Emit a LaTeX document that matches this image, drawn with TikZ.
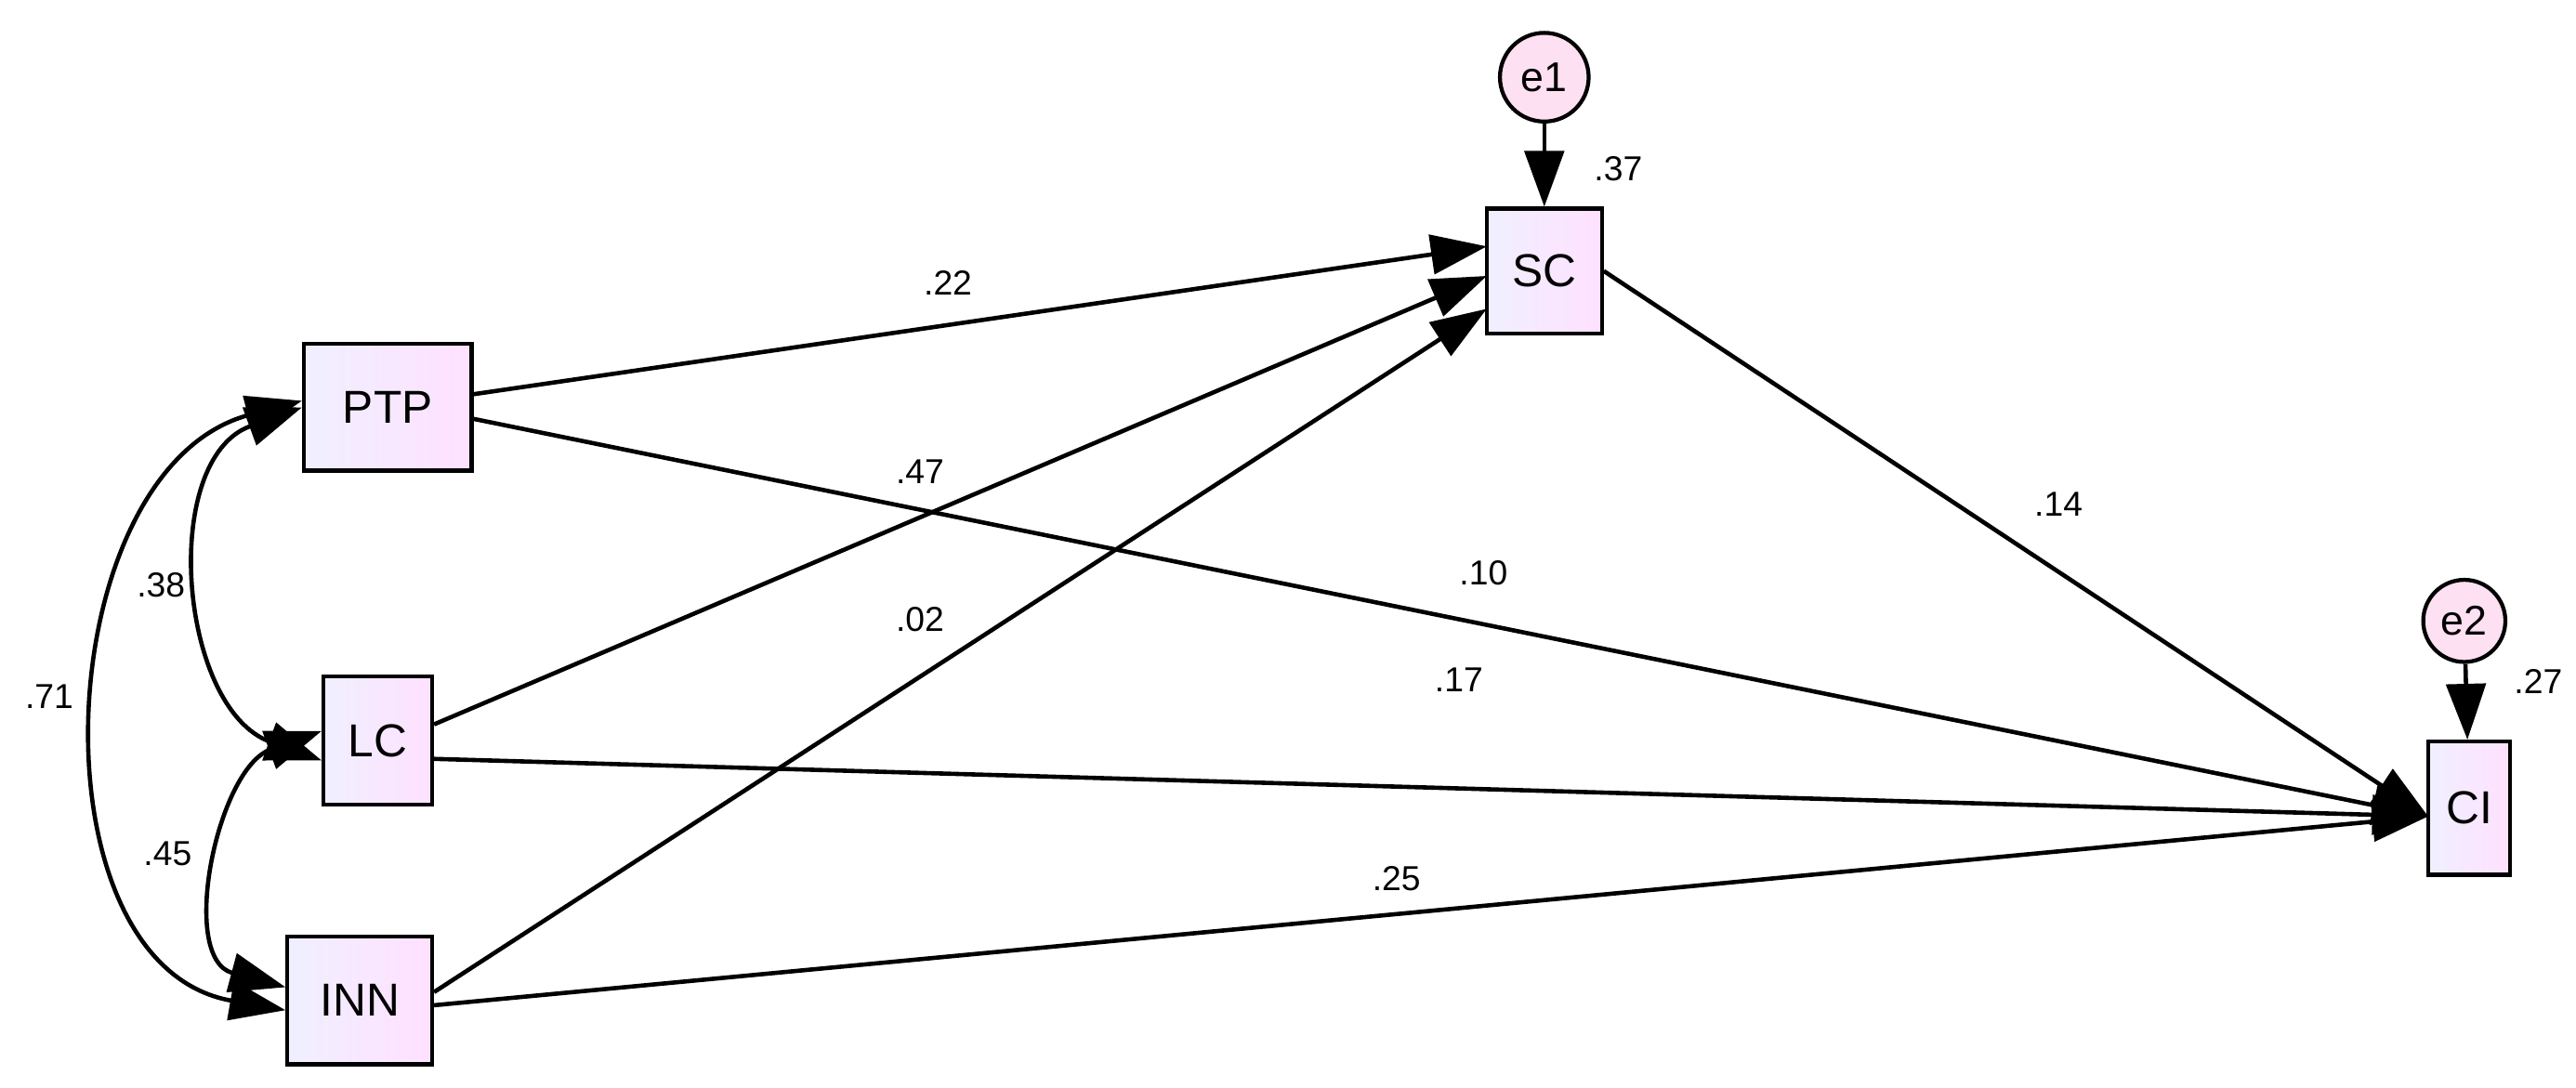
\documentclass[tikz,border=0pt]{standalone}
\usepackage{fontspec}
\setmainfont{Liberation Sans}
\usetikzlibrary{arrows.meta}
\tikzset{
  var/.style={draw, line width=1.2mm, left color=blue!6, right color=magenta!12, inner sep=0pt, font=\fontsize{40}{48}\selectfont},
  err/.style={draw, circle, line width=1.2mm, fill=magenta!12, minimum size=27mm, inner sep=0pt, font=\fontsize{36}{44}\selectfont},
  path/.style={line width=1.3mm, -{Triangle[length=17mm,width=12mm]}},
  cov/.style={line width=1.3mm, {Triangle[length=17mm,width=12mm]}-{Triangle[length=17mm,width=12mm]}},
  lab/.style={font=\fontsize{30}{36}\selectfont}
}
\begin{document}
\begin{tikzpicture}[x=0.5mm,y=-0.5mm]
  \useasboundingbox (0,0) rectangle (1568,662);

  \node[var, minimum width=51mm, minimum height=38.5mm] (PTP) at (236,248) {PTP};
  \node[var, minimum width=33mm, minimum height=39mm] (LC) at (230,451) {LC};
  \node[var, minimum width=44mm, minimum height=39mm] (INN) at (219,609) {INN};
  \node[var, minimum width=35mm, minimum height=38mm] (SC) at (940,165) {SC};
  \node[var, minimum width=25mm, minimum height=40.5mm] (CI) at (1503,492) {CI};
  \node[err] (e1) at (940,47) {e1};
  \node[err, minimum size=25mm] (e2) at (1500,378) {e2};

  \draw[path] (e1) -- (SC);
  \draw[path] (e2) -- (CI);

  \draw[path] (PTP.east) ++(0,-8) -- (905,150);
  \draw[path] (LC.east) ++(0,-10) -- (905,168);
  \draw[path] (INN.east) ++(0,-5) -- (905,188);
  \draw[path] (PTP.east) ++(0,7) -- (1478,497);
  \draw[path] (LC.east) ++(0,11) -- (1478,497);
  \draw[path] (INN.east) ++(0,3) -- (1478,497);
  \draw[path] (SC.east) -- (1478,497);

  \draw[cov] (PTP.west) to[out=200,in=160,looseness=1.1] ([yshift=-6mm]LC.west);
  \draw[cov] ([yshift=2mm]PTP.west) to[out=195,in=170,looseness=1.1] ([yshift=-3mm]INN.west);
  \draw[cov] ([yshift=3mm]LC.west) to[out=200,in=165,looseness=1.1] ([yshift=4mm]INN.west);

  \node[lab] at (577,172) {.22};
  \node[lab] at (560,287) {.47};
  \node[lab] at (560,377) {.02};
  \node[lab] at (903,349) {.10};
  \node[lab] at (888,414) {.17};
  \node[lab] at (850,535) {.25};
  \node[lab] at (1253,307) {.14};
  \node[lab] at (98,356) {.38};
  \node[lab] at (30,424) {.71};
  \node[lab] at (102,520) {.45};
  \node[lab] at (985,103) {.37};
  \node[lab] at (1545,415) {.27};
\end{tikzpicture}
\end{document}
